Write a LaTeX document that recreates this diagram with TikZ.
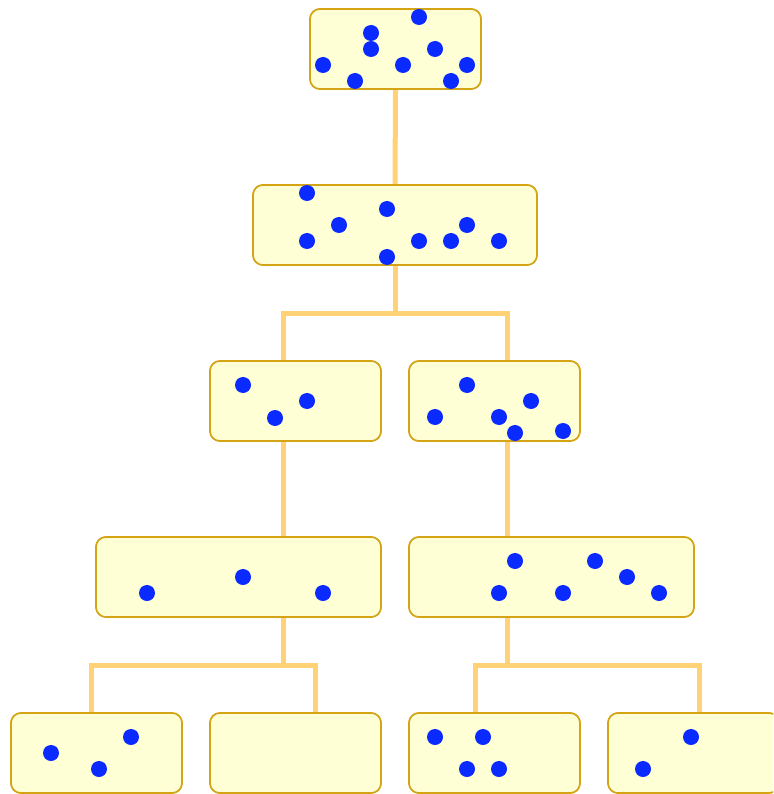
\documentclass[tikz,border=0pt]{standalone}
\begin{document}
\begin{tikzpicture}[x=1pt,y=-1pt,
  box/.style={draw=boxborder,fill=boxfill,line width=1.6pt,rounded corners=10pt,
    minimum height=80pt,inner sep=0pt},
  narrow/.style={box,minimum width=171pt},
  wide/.style={box,minimum width=285pt},
  conn/.style={draw=connc,line width=5pt,line join=miter},
  dot/.style={fill=dotc}]
\definecolor{boxfill}{HTML}{FFFFD5}
\definecolor{boxborder}{HTML}{D4A414}
\definecolor{connc}{HTML}{FFD275}
\definecolor{dotc}{HTML}{0A2AFF}
\useasboundingbox (0,0) rectangle (773,794);
\clip (0,0) rectangle (773,794);
% junction coordinates
\coordinate (j2) at (395,313);
\coordinate (j2a) at (283,313);
\coordinate (j2b) at (507,313);
\coordinate (j4a) at (283,665);
\coordinate (j4al) at (91,665);
\coordinate (j4ar) at (315,665);
\coordinate (j4b) at (507,665);
\coordinate (j4bl) at (475,665);
\coordinate (j4br) at (699,665);
% boxes (placed first for anchors)
\node[narrow] (n1) at (395.5,49) {};
\node[wide,minimum width=284pt] (n2) at (395,225) {};
\node[narrow] (n3a) at (295.5,401) {};
\node[narrow] (n3b) at (494.5,401) {};
\node[wide] (n4a) at (238.5,577) {};
\node[wide] (n4b) at (551.5,577) {};
\node[narrow] (n5a) at (96.5,753) {};
\node[narrow] (n5b) at (295.5,753) {};
\node[narrow] (n5c) at (494.5,753) {};
\node[narrow] (n5d) at (693.5,753) {};
% connectors
\path[conn] (n1.south) -- (n2.north);
\path[conn] (n2.south) -- (j2);
\path[conn] (j2a |- n3a.north) -- (j2a) -- (j2b) -- (j2b |- n3b.north);
\path[conn] (j2a |- n3a.south) -- (j2a |- n4a.north);
\path[conn] (j2b |- n3b.south) -- (j2b |- n4b.north);
\path[conn] (j4a |- n4a.south) -- (j4a);
\path[conn] (j4al |- n5a.north) -- (j4al) -- (j4ar) -- (j4ar |- n5b.north);
\path[conn] (j4b |- n4b.south) -- (j4b);
\path[conn] (j4bl |- n5c.north) -- (j4bl) -- (j4br) -- (j4br |- n5d.north);
% redraw boxes on top of the connectors
\node[narrow] at (n1) {};
\node[wide,minimum width=284pt] at (n2) {};
\node[narrow] at (n3a) {};
\node[narrow] at (n3b) {};
\node[wide] at (n4a) {};
\node[wide] at (n4b) {};
\node[narrow] at (n5a) {};
\node[narrow] at (n5b) {};
\node[narrow] at (n5c) {};
\node[narrow] at (n5d) {};
% dots
\foreach \p in {(419,17),(371,33),(371,49),(435,49),(323,65),(403,65),(467,65),(355,81),(451,81),
  (307,193),(387,209),(339,225),(467,225),(307,241),(419,241),(451,241),(499,241),(387,257),
  (243,385),(307,401),(275,418),
  (467,385),(531,401),(435,417),(499,417),(515,433),(563,431),
  (243,577),(147,593),(323,593),
  (515,561),(595,561),(627,577),(499,593),(563,593),(659,593),
  (131,737),(51,753),(99,769),
  (435,737),(483,737),(467,769),(499,769),
  (691,737),(643,769)}
  \fill[dot] \p circle (8);
\end{tikzpicture}
\end{document}
